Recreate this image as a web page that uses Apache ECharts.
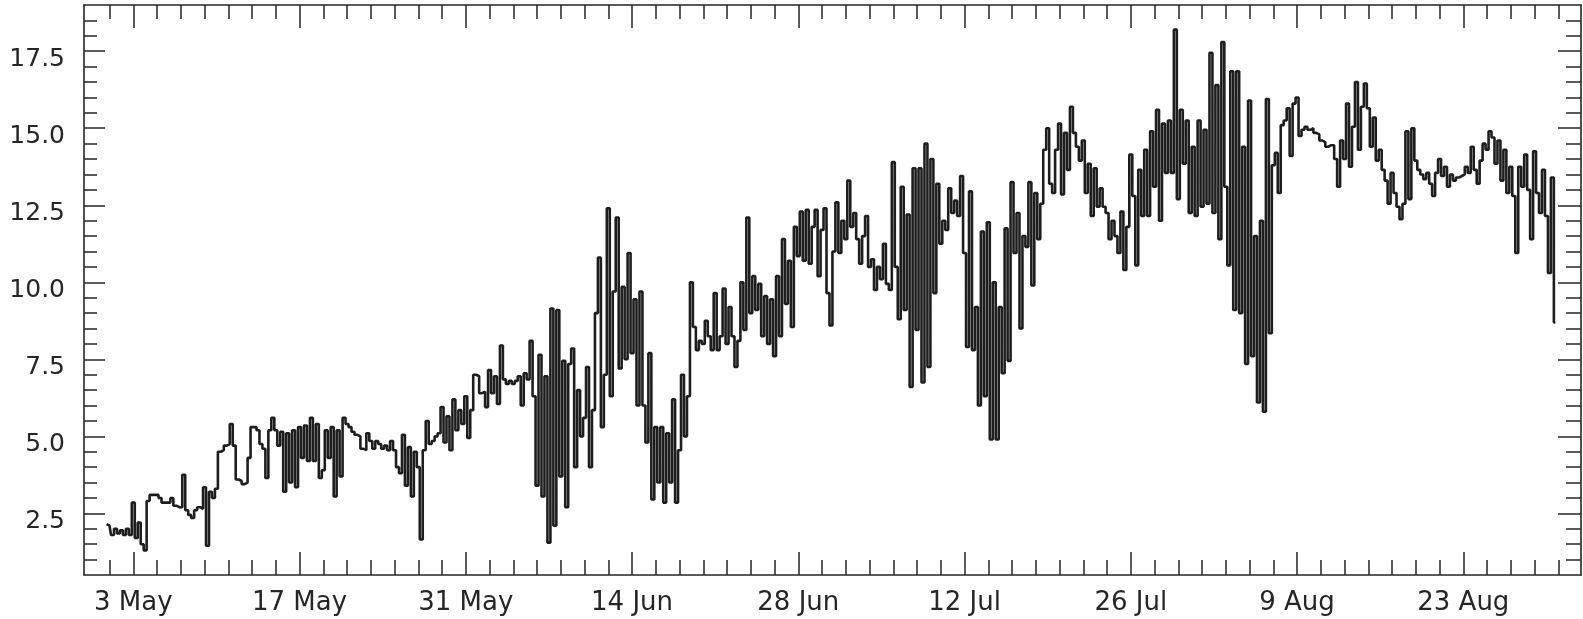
<!DOCTYPE html>
<html>
<head>
<meta charset="utf-8">
<script src="https://cdn.jsdelivr.net/npm/echarts@6/dist/echarts.min.js"></script>
<style>
  html, body { margin: 0; padding: 0; background: #fff; }
  #chart { width: 1583px; height: 619px; }
</style>
</head>
<body>
<div id="chart"></div>
<script>
// Six-hourly samples starting 30 Apr 18:00 (UTC).
const YEAR = 2001;
const HOUR = 3600 * 1000;
const DAY = 24 * HOUR;
const STEP = 6 * HOUR;
const seriesStart = Date.UTC(YEAR, 3, 30, 18);

const lateApril = [2.15];

const may = [
  2.1, 1.8, 2.0, 1.85,   1.95, 1.8, 2.0, 1.8,   2.85, 1.7, 2.2, 1.5,   1.3, 2.9, 3.1, 3.1,
  3.1, 3.0, 2.85, 2.85,  2.85, 3.0, 2.75, 2.7,  2.7, 3.75, 2.6, 2.45,  2.35, 2.6, 2.7, 2.65,
  3.35, 1.45, 3.2, 3.0,  3.3, 4.5, 4.55, 4.7,   4.75, 5.4, 4.7, 3.6,   3.55, 3.45, 3.5, 4.3,
  5.3, 5.3, 5.2, 4.75,   4.6, 3.65, 5.2, 5.6,   5.2, 4.7, 5.15, 3.2,   5.1, 3.5, 5.2, 3.35,
  5.3, 4.3, 5.35, 4.2,   5.6, 4.2, 5.4, 3.65,   3.9, 5.2, 4.3, 5.3,    3.05, 5.2, 3.7, 5.6,
  5.4, 5.3, 5.15, 5.05,  5.0, 4.6, 4.55, 5.1,   4.85, 4.6, 4.85, 4.75, 4.6, 4.7, 4.55, 4.85,
  4.55, 4.0, 3.8, 5.05,  3.4, 4.65, 3.05, 4.5,  4.0, 1.65, 4.55, 5.5,  4.75, 4.85, 5.0, 5.1,
  5.95, 4.8, 5.65, 4.55, 6.2, 5.2, 5.85, 5.4,   6.3, 4.95, 5.85, 7.0
];

const june = [
  6.95, 6.4, 6.45, 5.95, 7.15, 6.4, 6.95, 6.05, 7.95, 6.85, 6.7, 6.8,  6.7, 6.8, 6.95, 6.0,
  7.05, 6.85, 8.1, 6.3,  3.4, 7.65, 3.05, 6.95, 1.55, 9.15, 2.1, 9.1,  3.7, 7.45, 2.7, 7.35,
  7.85, 4.0, 6.5, 5.0,   5.6, 7.25, 4.0, 5.85,  9.0, 10.8, 5.3, 7.0,   12.4, 6.3, 9.7, 12.1,
  7.2, 9.85, 7.5, 10.95, 7.7, 9.45, 6.0, 9.7,   6.0, 4.8, 7.7, 2.95,   5.3, 3.5, 5.3, 2.85,
  5.1, 3.5, 6.2, 2.85,   4.55, 7.0, 5.0, 6.3,   10.0, 8.55, 7.8, 8.1,  8.0, 8.75, 8.25, 7.8,
  9.65, 7.8, 8.25, 9.8,  8.0, 9.2, 8.25, 7.25,  8.1, 10.0, 8.45, 12.1, 9.0, 10.2, 9.1, 9.95,
  8.25, 9.55, 8.0, 9.45, 7.6, 10.2, 8.25, 11.4, 9.3, 10.7, 8.55, 11.8, 10.85, 12.3, 10.7, 12.35,
  10.6, 11.8, 12.35, 10.2, 11.7, 12.4, 9.65, 8.6
];

const july = [
  11.0, 12.6, 10.95, 12.0, 11.4, 13.3, 11.8, 12.25, 11.4, 10.6, 11.5, 12.15, 10.5, 10.75, 9.75, 10.5,
  10.1, 11.25, 9.95, 9.75, 13.9, 10.5, 8.8, 13.1,  9.1, 12.2, 6.6, 13.7,    8.45, 13.7, 6.75, 14.5,
  7.25, 14.0, 9.65, 13.2,  11.25, 12.0, 11.7, 13.05, 12.25, 12.65, 12.15, 13.45, 10.95, 7.9, 12.95, 7.8,
  9.2, 6.0, 11.65, 6.3,    11.95, 4.9, 10.0, 4.9,   9.2, 7.05, 11.75, 7.45,  13.25, 10.95, 12.25, 8.5,
  11.5, 11.15, 13.25, 9.9, 12.9, 11.4, 12.55, 14.3, 15.0, 13.2, 12.9, 14.3,  15.15, 12.85, 14.85, 13.65,
  15.7, 14.85, 14.4, 13.95, 14.6, 12.9, 13.85, 12.15, 13.7, 12.45, 13.05, 12.45, 12.25, 11.4, 12.0, 11.5,
  10.95, 12.3, 10.4, 11.8, 14.15, 12.8, 10.55, 13.65, 12.15, 14.3, 12.15, 14.9, 13.1, 15.6, 12.0, 15.15,
  13.55, 15.25, 13.55, 18.2, 12.7, 15.6, 13.85, 15.25, 12.25, 14.4, 12.15, 15.25
];

const august = [
  12.45, 14.95, 12.55, 17.45, 12.25, 16.4, 11.4, 17.8,  13.1, 10.55, 16.85, 9.1,  16.85, 9.0, 14.4, 7.35,
  15.9, 7.6, 11.5, 6.1,       12.0, 5.8, 15.95, 8.35,   13.8, 14.2, 12.9, 15.1,   15.25, 15.65, 14.1, 15.8,
  16.0, 14.75, 14.95, 15.05,  14.95, 15.0, 14.85, 14.8, 14.6, 14.55, 14.4, 14.45, 14.45, 14.0, 13.1, 14.6,
  14.0, 15.8, 13.75, 15.05,   16.5, 14.3, 15.7, 16.45,  15.65, 14.4, 15.35, 13.95, 14.3, 13.65, 13.3, 12.55,
  13.55, 12.9, 12.45, 12.05,  12.55, 14.9, 12.7, 15.0,  13.95, 13.65, 13.5, 13.35, 13.55, 13.2, 12.8, 13.55,
  14.0, 13.45, 13.75, 13.1,   13.5, 13.3, 13.4, 13.45,  13.5, 13.75, 13.55, 14.4, 13.65, 13.2, 13.95, 14.5,
  14.3, 14.9, 14.7, 13.85,    14.6, 13.3, 14.3, 12.9,   13.75, 12.8, 10.95, 13.75, 13.1, 14.15, 13.0, 11.4,
  14.25, 12.9, 12.25, 13.65,  12.15, 10.3, 13.4, 8.7
];

// Axis labels
const dateTickLabels = ['3 May', '17 May', '31 May', '14 Jun', '28 Jun', '12 Jul', '26 Jul', '9 Aug', '23 Aug'];
const valueTickLabels = [2.5, 5.0, 7.5, 10.0, 12.5, 15.0, 17.5];

const MONTHS = ['Jan', 'Feb', 'Mar', 'Apr', 'May', 'Jun', 'Jul', 'Aug', 'Sep', 'Oct', 'Nov', 'Dec'];
function parseDayMonth(s) {
  const [d, m] = s.split(' ');
  return Date.UTC(YEAR, MONTHS.indexOf(m), Number(d));
}

const values = [].concat(lateApril, may, june, july, august);
const points = values.map((v, i) => [seriesStart + i * STEP, v]);

// Plot window (time in ms on a linear axis)
const xMin = Date.UTC(YEAR, 3, 28, 20, 24);
const xMax = Date.UTC(YEAR, 8, 1, 21, 50);
const yMin = 0.5, yMax = 19.0;

const majorX = dateTickLabels.map(parseDayMonth);
const minorX = [];
for (let t = Date.UTC(YEAR, 4, 1); t <= Date.UTC(YEAR, 7, 31); t += 2 * DAY) {
  if (!majorX.includes(t)) minorX.push(t);
}
const majorY = valueTickLabels.slice();
const minorY = [];
for (let v = 1.0; v <= 18.5001; v += 0.5) {
  const r = Math.round(v * 10) / 10;
  if (!majorY.some(m => Math.abs(m - r) < 1e-6)) minorY.push(r);
}

const INK = '#262626';
const FONT = 'DejaVu Sans';
const tickStyle = { color: INK, width: 1.5 };

function dateLabel(val) {
  const d = new Date(val);
  return d.getUTCDate() + ' ' + MONTHS[d.getUTCMonth()];
}

function xAxisDef(position, ticks, len, withLine, withLabels) {
  return {
    type: 'value', min: xMin, max: xMax, position, scale: true,
    splitLine: { show: false },
    axisLine: { show: withLine, lineStyle: { color: INK, width: 1.6 } },
    axisTick: { show: true, inside: true, length: len, customValues: ticks, lineStyle: tickStyle },
    axisLabel: withLabels ? {
      show: true, customValues: ticks, color: INK, fontFamily: FONT, fontSize: 26, margin: 15,
      formatter: dateLabel
    } : { show: false }
  };
}
function yAxisDef(position, ticks, len, withLine, withLabels) {
  return {
    type: 'value', min: yMin, max: yMax, position,
    splitLine: { show: false },
    axisLine: { show: withLine, lineStyle: { color: INK, width: 1.6 } },
    axisTick: { show: true, inside: true, length: len, customValues: ticks, lineStyle: tickStyle },
    axisLabel: withLabels ? {
      show: true, customValues: ticks, color: INK, fontFamily: FONT, fontSize: 25, margin: 19,
      verticalAlign: 'top', lineHeight: 16,
      formatter: (val) => Number(val).toFixed(1)
    } : { show: false }
  };
}

const chart = echarts.init(document.getElementById('chart'), null, { renderer: 'canvas' });
chart.setOption({
  animation: false,
  backgroundColor: '#ffffff',
  grid: { left: 84, right: 2, top: 5, bottom: 44, containLabel: false },
  xAxis: [
    xAxisDef('bottom', majorX, 23, true, true),
    xAxisDef('bottom', minorX, 15, false, false),
    xAxisDef('top', majorX, 23, true, false),
    xAxisDef('top', minorX, 14, false, false)
  ],
  yAxis: [
    yAxisDef('left', majorY, 21, true, true),
    yAxisDef('left', minorY, 13, false, false),
    yAxisDef('right', majorY, 23, true, false),
    yAxisDef('right', minorY, 15, false, false)
  ],
  series: [{
    type: 'line',
    xAxisIndex: 0,
    yAxisIndex: 0,
    data: points,
    step: 'middle',
    showSymbol: false,
    symbol: 'none',
    sampling: null,
    lineStyle: { color: '#1e1e1e', width: 2.6 },
    silent: true
  }]
});
</script>
</body>
</html>
